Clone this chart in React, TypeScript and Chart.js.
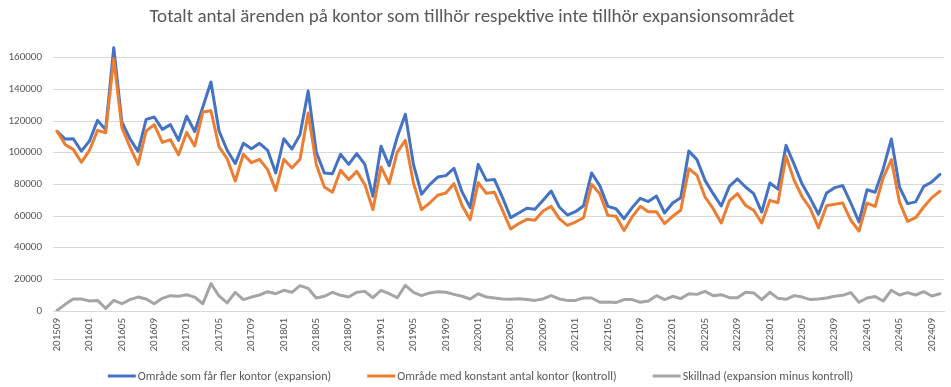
import React, { useEffect, useRef } from "react";
import { Chart, registerables } from "chart.js";

Chart.register(...registerables);

const TITLE = "Totalt antal ärenden på kontor som tillhör respektive inte tillhör expansionsområdet";

const months = [
  "201509", "201510", "201511", "201512",
  "201601", "201602", "201603", "201604", "201605", "201606", "201607", "201608", "201609", "201610", "201611", "201612",
  "201701", "201702", "201703", "201704", "201705", "201706", "201707", "201708", "201709", "201710", "201711", "201712",
  "201801", "201802", "201803", "201804", "201805", "201806", "201807", "201808", "201809", "201810", "201811", "201812",
  "201901", "201902", "201903", "201904", "201905", "201906", "201907", "201908", "201909", "201910", "201911", "201912",
  "202001", "202002", "202003", "202004", "202005", "202006", "202007", "202008", "202009", "202010", "202011", "202012",
  "202101", "202102", "202103", "202104", "202105", "202106", "202107", "202108", "202109", "202110", "202111", "202112",
  "202201", "202202", "202203", "202204", "202205", "202206", "202207", "202208", "202209", "202210", "202211", "202212",
  "202301", "202302", "202303", "202304", "202305", "202306", "202307", "202308", "202309", "202310", "202311", "202312",
  "202401", "202402", "202403", "202404", "202405", "202406", "202407", "202408", "202409", "202410",
];

const expansion = [
  113500, 108600, 108800, 101000, 107400, 120400, 114500, 166300, 119400, 108800,
  100800, 121000, 122500, 114700, 117700, 107800, 123000, 113400, 128800, 144600,
  113700, 101500, 93100, 105900, 102500, 105900, 101500, 87200, 108800, 102300,
  111400, 139000, 100400, 87200, 86700, 99000, 92600, 99400, 92600, 72400,
  104000, 91800, 109900, 124200, 92600, 73700, 79800, 84600, 85500, 90100,
  75200, 65300, 92600, 82500, 83000, 71600, 59000, 61900, 64900, 64200,
  69900, 75800, 65700, 60600, 62700, 66500, 87200, 79200, 66100, 64600,
  58300, 65300, 71200, 69100, 72600, 61900, 68200, 71600, 101100, 95600,
  82500, 74100, 66300, 78700, 83400, 78300, 74100, 62500, 80800, 77000,
  104600, 92600, 80000, 71000, 61100, 74500, 77900, 79200, 68200, 56200,
  76600, 75000, 89900, 108600, 78300, 67800, 68900, 78700, 81500, 86300,
];

const kontroll = [
  113500, 105100, 102100, 93900, 101500, 114100, 112600, 159400, 115800, 103600,
  92600, 113700, 117700, 106500, 108200, 98700, 112800, 104200, 125700, 126500,
  103600, 96200, 82100, 99000, 93700, 95800, 89300, 76200, 95800, 90300,
  95800, 125000, 92600, 78300, 75000, 88900, 83000, 88200, 79800, 64000,
  91000, 80400, 100400, 107800, 80800, 64000, 68200, 73100, 74500, 80400,
  66700, 57700, 81100, 74300, 75000, 63600, 51800, 55200, 57900, 57300,
  63200, 66100, 58300, 54100, 56200, 58900, 80000, 74100, 60400, 59800,
  50900, 59400, 66100, 62700, 62700, 55200, 59800, 63600, 89900, 85700,
  72000, 64600, 55600, 69500, 74100, 66700, 63600, 55600, 69900, 68400,
  97700, 82500, 72000, 64600, 52500, 66500, 67400, 68200, 57300, 50500,
  68200, 66100, 84200, 95600, 68900, 56600, 58900, 65700, 71600, 75600,
];

const skillnad = [
  300, 4200, 7600, 7600, 6300, 6700, 1700, 6700, 4600, 7200,
  8800, 7600, 4600, 8000, 9700, 9300, 10300, 8800, 4600, 17300,
  9500, 5100, 11800, 7200, 8800, 10100, 12200, 10900, 13100, 11800,
  16000, 14300, 8200, 9300, 11800, 9900, 8800, 11800, 12400, 8400,
  13100, 10900, 8400, 16200, 11800, 9700, 11400, 12200, 11800, 10500,
  9300, 7600, 10900, 8800, 8200, 7600, 7400, 7800, 7200, 6700,
  7600, 9700, 7600, 6700, 6700, 8200, 8200, 5500, 5700, 5300,
  7200, 7200, 5500, 6300, 9700, 7200, 9300, 7800, 10900, 10500,
  12400, 9700, 10300, 8400, 8400, 11800, 11400, 7200, 11800, 8000,
  7400, 9700, 8800, 7200, 7600, 8200, 9300, 9900, 11600, 5500,
  8200, 9100, 6300, 13100, 10100, 11600, 10100, 12200, 9500, 10900,
];

const seriesNames = [
  "Område som får fler kontor (expansion)",
  "Område med konstant antal kontor (kontroll)",
  "Skillnad (expansion minus kontroll)",
];
const seriesColors = ["#4472C4", "#ED7D31", "#A5A5A5"];

const yTicks = [0, 20000, 40000, 60000, 80000, 100000, 120000, 140000, 160000];

const FONT = "Calibri, Carlito, Lato, sans-serif";
const TEXT = "#595959";
const GRID = "#D9D9D9";

// Excel-style legend: short line swatch, tight gap to text, wide gap between items
const excelLegend = {
  id: "excelLegend",
  afterDraw(chart: any) {
    const ctx = chart.ctx;
    const items = chart.data.datasets.map((d: any) => ({ text: d.label, color: d.borderColor }));
    let size = 12;
    ctx.save();
    ctx.font = `${size}px ${FONT}`;
    const measured = items.reduce((s: number, it: any) => s + ctx.measureText(it.text).width, 0);
    size = Math.max(10.5, Math.min(12.5, (12 * 584) / measured));
    ctx.font = `${size}px ${FONT}`;
    const lineW = 28;
    const gapLT = 2;
    const gapItems = 36;
    const widths = items.map((it: any) => ctx.measureText(it.text).width);
    const total = widths.reduce((s: number, w: number) => s + lineW + gapLT + w, 0) + gapItems * (items.length - 1);
    let x = chart.width / 2 + 5 - total / 2;
    const y = chart.height - 11;
    ctx.textBaseline = "middle";
    ctx.textAlign = "left";
    items.forEach((it: any, i: number) => {
      ctx.strokeStyle = it.color;
      ctx.lineWidth = 3;
      ctx.lineCap = "butt";
      ctx.beginPath();
      ctx.moveTo(x, y);
      ctx.lineTo(x + lineW, y);
      ctx.stroke();
      ctx.fillStyle = TEXT;
      ctx.fillText(it.text, x + lineW + gapLT, y + 0.5);
      x += lineW + gapLT + widths[i] + gapItems;
    });
    ctx.restore();
  },
};

export default function App() {
  const ref = useRef<HTMLCanvasElement | null>(null);

  useEffect(() => {
    if (!ref.current) return;
    const mk = (i: number, data: number[], order: number) => ({
      label: seriesNames[i],
      data,
      borderColor: seriesColors[i],
      backgroundColor: seriesColors[i],
      borderWidth: 3,
      pointRadius: 0,
      pointHoverRadius: 0,
      tension: 0,
      borderCapStyle: "round" as const,
      borderJoinStyle: "round" as const,
      order,
    });
    const chart = new Chart(ref.current, {
      type: "line",
      data: {
        labels: months,
        datasets: [mk(0, expansion, 3), mk(1, kontroll, 2), mk(2, skillnad, 1)],
      },
      plugins: [excelLegend],
      options: {
        responsive: false,
        animation: false,
        layout: { padding: { left: 0, right: 7, top: 0, bottom: 26 } },
        plugins: {
          tooltip: { enabled: false },
          legend: { display: false },
          title: {
            display: true,
            text: TITLE,
            color: TEXT,
            font: { family: FONT, size: 19, weight: "normal", lineHeight: "18px" },
            padding: { top: 8, bottom: 0 },
          },
        },
        scales: {
          x: {
            type: "category",
            offset: true,
            grid: { display: false, drawTicks: false },
            border: { display: true, color: GRID, width: 1 },
            ticks: {
              autoSkip: false,
              maxRotation: 90,
              minRotation: 90,
              padding: 7,
              color: TEXT,
              font: { family: FONT, size: 11 },
              callback: (_v: any, i: number) => (i % 4 === 0 ? months[i] : ""),
            },
            afterFit: (s: any) => {
              s.height = 50;
              s.paddingLeft = 0;
              s.paddingRight = 0;
            },
          },
          y: {
            min: 0,
            max: 180000,
            afterBuildTicks: (s: any) => {
              s.ticks = [...yTicks.map((v) => ({ value: v })), { value: 180000 }];
            },
            afterFit: (s: any) => {
              s.width = 53;
            },
            grid: {
              drawTicks: false,
              color: (c: any) => (c.tick && c.tick.value === 180000 ? "rgba(0,0,0,0)" : GRID),
              lineWidth: 1,
            },
            border: { display: false },
            ticks: {
              padding: 11,
              color: TEXT,
              font: { family: FONT, size: 11 },
              callback: (v: any) => (v === 180000 ? "" : String(v)),
            },
          },
        },
      },
    } as any);
    return () => chart.destroy();
  }, []);

  return (
    <div style={{ position: "fixed", left: 0, top: 0, width: 951, height: 387, background: "#fff" }}>
      <canvas ref={ref} width={951} height={387} />
    </div>
  );
}
